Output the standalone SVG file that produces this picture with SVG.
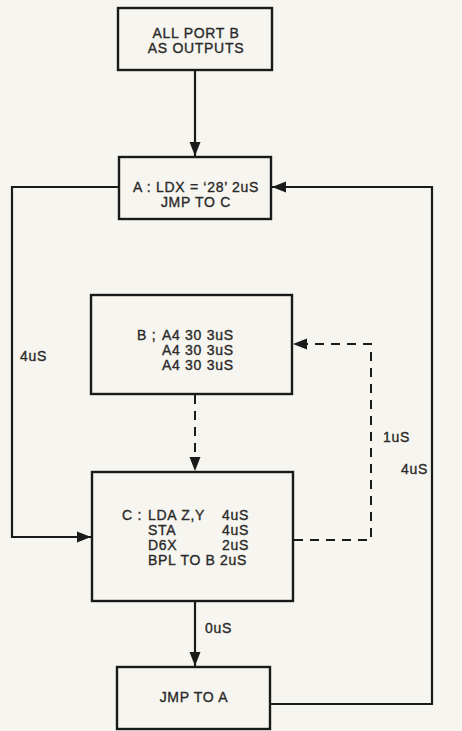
<svg xmlns="http://www.w3.org/2000/svg" width="462" height="731" viewBox="0 0 462 731">
<defs>
<style>
.bg{fill:#f7f5ef}
.box{fill:none;stroke:#1a1a1a;stroke-width:2.4}
.ln{fill:none;stroke:#1a1a1a;stroke-width:2.2}
.dash{fill:none;stroke:#1a1a1a;stroke-width:2;stroke-dasharray:9,7}
text{font-family:"Liberation Sans",Arial,sans-serif;font-size:14px;fill:#2a2a2a;stroke:#2a2a2a;stroke-width:0.35;letter-spacing:0.7px}
.c{text-anchor:middle}
.e{text-anchor:end}
</style>
<marker id="ah" markerUnits="userSpaceOnUse" markerWidth="16" markerHeight="14" refX="14" refY="7" orient="auto">
<path d="M0,1.5 L14,7 L0,12.5 Z" fill="#1a1a1a"/>
</marker>
</defs>
<rect class="bg" x="0" y="0" width="462" height="731"/>
<g id="connectors">
<path class="ln" d="M195,70 L195,156" marker-end="url(#ah)"/>
<path class="ln" d="M119,187 L12,187 L12,537 L91,537" marker-end="url(#ah)"/>
<path class="ln" d="M271,704 L432,704 L432,187 L272,187" marker-end="url(#ah)"/>
<path class="dash" d="M195,395 L195,471" marker-end="url(#ah)"/>
<path class="dash" d="M294,540 L371,540 L371,344 L293,344" marker-end="url(#ah)"/>
<path class="ln" d="M195,602 L195,666" marker-end="url(#ah)"/>
</g>
<g id="labels">
<text x="20" y="361">4uS</text>
<text x="383" y="442">1uS</text>
<text x="401" y="474">4uS</text>
<text x="205" y="633">0uS</text>
</g>
<g id="start">
<rect class="box" x="118" y="8" width="154" height="62"/>
<text class="c" x="196" y="38">ALL PORT B</text>
<text class="c" x="196" y="53">AS OUTPUTS</text>
</g>
<g id="A">
<rect class="box" x="119" y="157" width="152" height="62"/>
<text class="c" x="196" y="192">A : LDX = ‘28’ 2uS</text>
<text class="c" x="196" y="207">JMP TO C</text>
</g>
<g id="B">
<rect class="box" x="91" y="295" width="201" height="99"/>
<text x="137" y="340">B ;</text>
<text x="162" y="340">A4 30 3uS</text>
<text x="162" y="355">A4 30 3uS</text>
<text x="162" y="370">A4 30 3uS</text>
</g>
<g id="C">
<rect class="box" x="92" y="472" width="201" height="129"/>
<text x="122" y="520">C :</text>
<text x="148" y="520">LDA Z,Y</text>
<text class="e" x="249" y="520">4uS</text>
<text x="148" y="535">STA</text>
<text class="e" x="249" y="535">4uS</text>
<text x="148" y="550">D6X</text>
<text class="e" x="249" y="550">2uS</text>
<text x="148" y="565">BPL TO B</text>
<text class="e" x="247" y="565">2uS</text>
</g>
<g id="J">
<rect class="box" x="117" y="667" width="153" height="62"/>
<text class="c" x="194" y="702">JMP TO A</text>
</g>
</svg>
